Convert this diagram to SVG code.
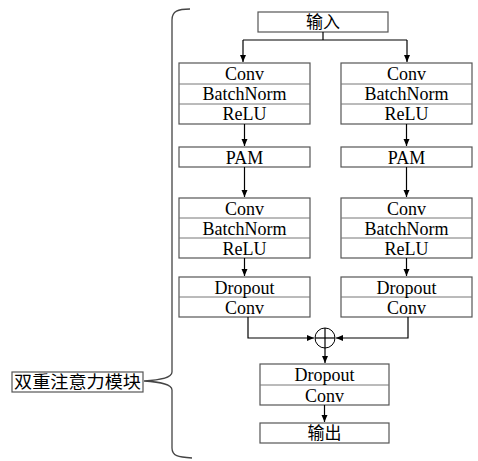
<svg xmlns="http://www.w3.org/2000/svg" width="478" height="461" viewBox="0 0 478 461">
<defs>
<marker id="ah" markerWidth="8" markerHeight="8" refX="7" refY="4" orient="auto" markerUnits="userSpaceOnUse">
<path d="M0,1 L7,4 L0,7 z" fill="#000"/>
</marker>
<style>
.b{fill:#fff;stroke:#555;stroke-width:1.2}
.d{stroke:#777;stroke-width:1}
.t{font-family:"Liberation Serif","Times New Roman",serif;font-size:18px;fill:#000;text-anchor:middle}
.c{font-family:"Liberation Serif","Noto Sans CJK SC",serif;font-size:17px;fill:#000;text-anchor:middle}
.l{fill:none;stroke:#000;stroke-width:1.2}
</style>
</defs>
<rect width="478" height="461" fill="#fff"/>
<g id="input"><rect class="b" x="258" y="12" width="130" height="20"/><text class="c" x="323" y="28">输入</text></g>
<g id="L1"><rect class="b" x="179" y="63" width="131" height="61"/><line class="d" x1="179" y1="84" x2="310" y2="84"/><line class="d" x1="179" y1="104" x2="310" y2="104"/>
<text class="t" x="244.5" y="80">Conv</text><text class="t" x="244.5" y="100">BatchNorm</text><text class="t" x="244.5" y="120">ReLU</text></g>
<g id="R1"><rect class="b" x="341" y="63" width="131" height="61"/><line class="d" x1="341" y1="84" x2="472" y2="84"/><line class="d" x1="341" y1="104" x2="472" y2="104"/>
<text class="t" x="406.5" y="80">Conv</text><text class="t" x="406.5" y="100">BatchNorm</text><text class="t" x="406.5" y="120">ReLU</text></g>
<g id="L2"><rect class="b" x="179" y="147" width="131" height="20"/><text class="t" x="244.5" y="163.5">PAM</text></g>
<g id="R2"><rect class="b" x="341" y="147" width="131" height="20"/><text class="t" x="406.5" y="163.5">PAM</text></g>
<g id="L3"><rect class="b" x="179" y="198" width="131" height="60"/><line class="d" x1="179" y1="218" x2="310" y2="218"/><line class="d" x1="179" y1="238" x2="310" y2="238"/>
<text class="t" x="244.5" y="214.5">Conv</text><text class="t" x="244.5" y="234.5">BatchNorm</text><text class="t" x="244.5" y="254.5">ReLU</text></g>
<g id="R3"><rect class="b" x="341" y="198" width="131" height="60"/><line class="d" x1="341" y1="218" x2="472" y2="218"/><line class="d" x1="341" y1="238" x2="472" y2="238"/>
<text class="t" x="406.5" y="214.5">Conv</text><text class="t" x="406.5" y="234.5">BatchNorm</text><text class="t" x="406.5" y="254.5">ReLU</text></g>
<g id="L4"><rect class="b" x="179" y="277" width="131" height="40"/><line class="d" x1="179" y1="297" x2="310" y2="297"/>
<text class="t" x="244.5" y="293.5">Dropout</text><text class="t" x="244.5" y="313.5">Conv</text></g>
<g id="R4"><rect class="b" x="341" y="277" width="131" height="40"/><line class="d" x1="341" y1="297" x2="472" y2="297"/>
<text class="t" x="406.5" y="293.5">Dropout</text><text class="t" x="406.5" y="313.5">Conv</text></g>
<g id="add"><circle cx="325" cy="338" r="10" fill="#fff" stroke="#000" stroke-width="1"/><line class="l" x1="315" y1="338" x2="335" y2="338"/><line class="l" x1="325" y1="328" x2="325" y2="348"/></g>
<g id="out1"><rect class="b" x="260" y="364" width="129" height="41"/><line class="d" x1="260" y1="385" x2="389" y2="385"/>
<text class="t" x="324.5" y="380.5">Dropout</text><text class="t" x="324.5" y="401.5">Conv</text></g>
<g id="output"><rect class="b" x="260" y="423" width="129" height="20"/><text class="c" x="324.5" y="439">输出</text></g>
<g id="label"><rect class="b" x="12" y="372" width="131" height="20"/><text class="c" x="77.5" y="388" textLength="127" lengthAdjust="spacingAndGlyphs">双重注意力模块</text></g>
<g id="brace"><path d="M190,9 C178,9 172,11 172,20 L172,372 C172,378 160,380 144,381 C160,382 172,384 172,390 L172,448 C172,456 178,457 192,458" fill="none" stroke="#444" stroke-width="1.3"/></g>
<g id="connectors">
<path class="l" d="M323,32 L323,40"/>
<path class="l" d="M243,40 L407,40"/>
<path class="l" d="M243,40 L243,62" marker-end="url(#ah)"/>
<path class="l" d="M407,40 L407,62" marker-end="url(#ah)"/>
<path class="l" d="M244.5,124 L244.5,146" marker-end="url(#ah)"/>
<path class="l" d="M406.5,124 L406.5,146" marker-end="url(#ah)"/>
<path class="l" d="M244.5,167 L244.5,197" marker-end="url(#ah)"/>
<path class="l" d="M406.5,167 L406.5,197" marker-end="url(#ah)"/>
<path class="l" d="M244.5,258 L244.5,276" marker-end="url(#ah)"/>
<path class="l" d="M406.5,258 L406.5,276" marker-end="url(#ah)"/>
<path class="l" d="M248,317 L248,338 L314,338" marker-end="url(#ah)"/>
<path class="l" d="M408,317 L408,338 L336,338" marker-end="url(#ah)"/>
<path class="l" d="M325,348 L325,363" marker-end="url(#ah)"/>
<path class="l" d="M324.5,405 L324.5,422" marker-end="url(#ah)"/>
</g>
</svg>
